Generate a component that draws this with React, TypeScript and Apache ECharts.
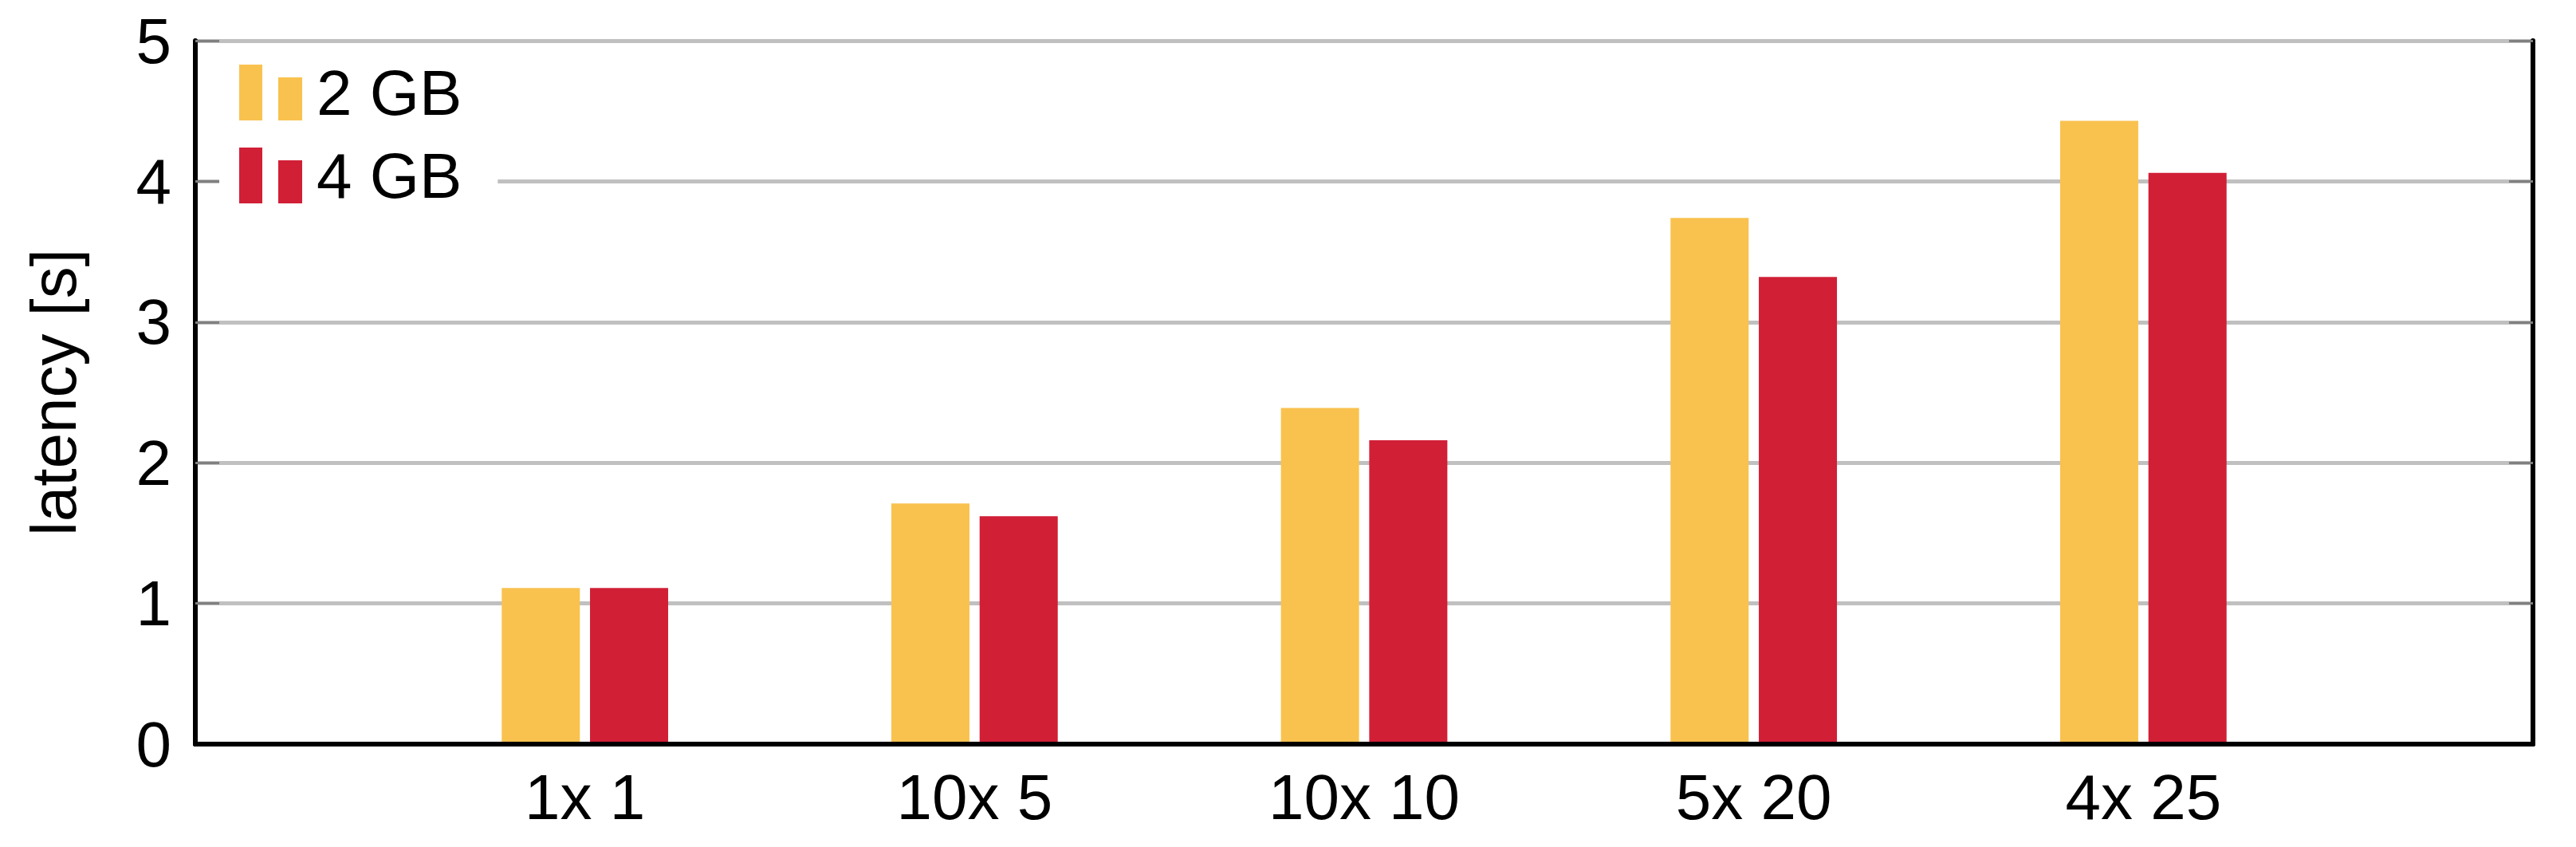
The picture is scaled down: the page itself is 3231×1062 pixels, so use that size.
import React, { useEffect, useRef } from "react";
import * as echarts from "echarts";

const categories = ["1x 1", "10x 5", "10x 10", "5x 20", "4x 25"];
const seriesNames = ["2 GB", "4 GB"];
const values2GB = [1.11, 1.71, 2.39, 3.74, 4.43];
const values4GB = [1.11, 1.62, 2.16, 3.32, 4.06];
const yTicks = [0, 1, 2, 3, 4, 5];
const yTitle = "latency [s]";

const YELLOW = "#F9C24F";
const RED = "#D11F36";
const FONT = "Liberation Sans, Arial, Helvetica, sans-serif";

export default function App() {
  const ref = useRef<HTMLDivElement>(null);

  useEffect(() => {
    document.body.style.margin = "0";
    if (!ref.current) return;
    const chart = echarts.init(ref.current, undefined, { renderer: "svg" });

    const axisCats = ["", ...categories, ""];
    const pad = (arr: number[]) => ["-", ...arr, "-"];

    const option: any = {
      animation: false,
      backgroundColor: "#ffffff",
      textStyle: { fontFamily: FONT },
      grid: { left: 245, right: 54, top: 51, bottom: 129, containLabel: false },
      legend: {
        orient: "vertical",
        left: 275,
        top: 61,
        padding: [15, 45, 15, 25],
        backgroundColor: "#ffffff",
        itemGap: 24,
        itemWidth: 79,
        itemHeight: 70,
        icon: "path://M0,0h29v70h-29z M49,16h30v54h-30z",
        data: seriesNames,
        textStyle: {
          fontFamily: FONT,
          fontSize: 80,
          color: "#000000",
          lineHeight: 46,
          padding: [26, 0, 0, 13],
        },
      },
      xAxis: [
        {
          type: "category",
          position: "bottom",
          data: axisCats,
          boundaryGap: false,
          z: 3,
          axisLine: { show: true, lineStyle: { color: "#000000", width: 6 } },
          axisTick: { show: false },
          splitLine: { show: false },
          axisLabel: {
            interval: 0,
            margin: 26,
            fontFamily: FONT,
            fontSize: 80,
            color: "#000000",
          },
        },
        {
          type: "category",
          position: "top",
          data: axisCats,
          boundaryGap: false,
          z: 3,
          axisLine: { show: true, lineStyle: { color: "#000000", width: 6 } },
          axisTick: { show: false },
          splitLine: { show: false },
          axisLabel: { show: false },
        },
      ],
      yAxis: [
        {
          type: "value",
          position: "left",
          min: yTicks[0],
          max: yTicks[yTicks.length - 1],
          interval: 1,
          axisLine: { show: true, lineStyle: { color: "#000000", width: 6 } },
          axisTick: {
            show: true,
            inside: true,
            length: 30,
            lineStyle: { color: "#808080", width: 3 },
          },
          splitLine: { show: true, lineStyle: { color: "#C0C0C0", width: 5 } },
          axisLabel: {
            margin: 30,
            fontFamily: FONT,
            fontSize: 80,
            color: "#000000",
          },
        },
        {
          type: "value",
          position: "right",
          min: yTicks[0],
          max: yTicks[yTicks.length - 1],
          interval: 1,
          axisLine: { show: true, lineStyle: { color: "#000000", width: 6 } },
          axisTick: {
            show: true,
            inside: true,
            length: 30,
            lineStyle: { color: "#808080", width: 3 },
          },
          splitLine: { show: false },
          axisLabel: { show: false },
        },
      ],
      series: [
        {
          name: seriesNames[0],
          type: "bar",
          xAxisIndex: 0,
          yAxisIndex: 0,
          data: pad(values2GB),
          barWidth: 98,
          barGap: "13%",
          itemStyle: { color: YELLOW },
        },
        {
          name: seriesNames[1],
          type: "bar",
          xAxisIndex: 0,
          yAxisIndex: 0,
          data: pad(values4GB),
          barWidth: 98,
          barGap: "13%",
          itemStyle: { color: RED },
        },
      ],
      graphic: [
        {
          type: "text",
          x: 67,
          y: 492,
          rotation: Math.PI / 2,
          style: {
            text: yTitle,
            fontFamily: FONT,
            fontSize: 80,
            fill: "#000000",
            textAlign: "center",
            textVerticalAlign: "middle",
          },
        },
      ],
    };

    chart.setOption(option);
    return () => {
      chart.dispose();
    };
  }, []);

  return <div ref={ref} style={{ width: 3231, height: 1062 }} />;
}
